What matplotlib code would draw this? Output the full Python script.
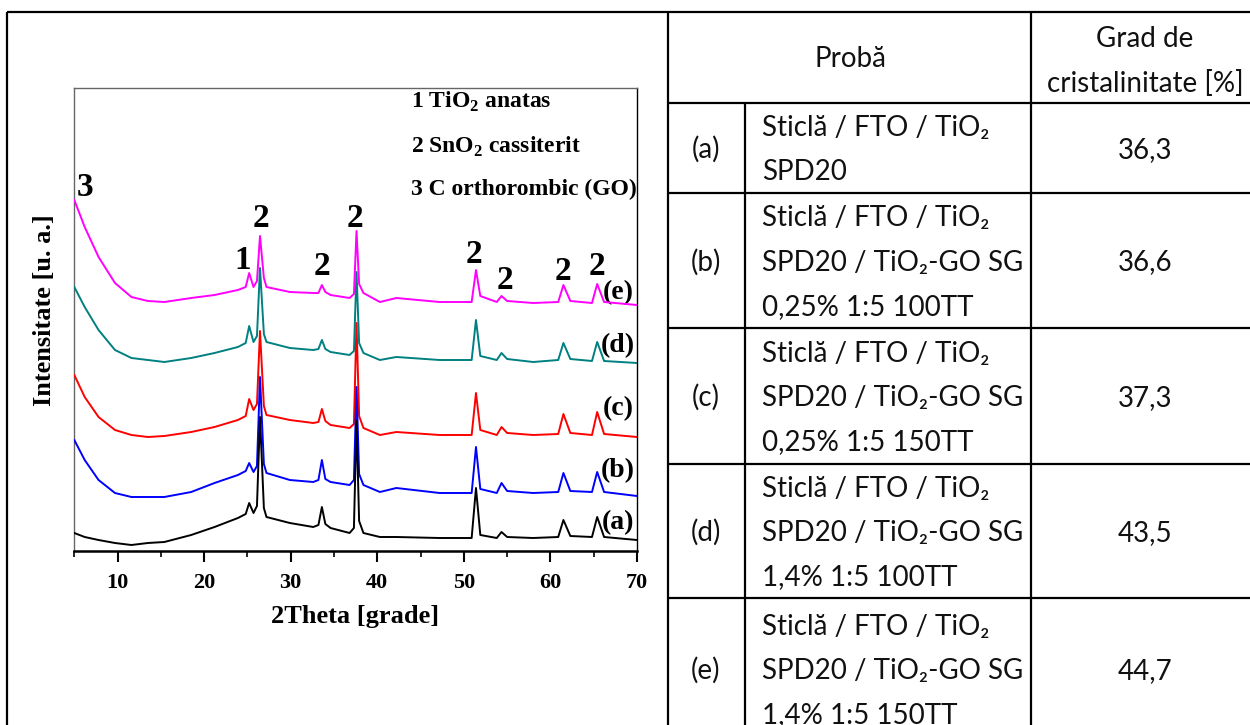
import matplotlib
matplotlib.use("Agg")
import matplotlib.pyplot as plt
from matplotlib.ticker import MultipleLocator

plt.rcParams['mathtext.fontset'] = 'custom'
plt.rcParams['mathtext.rm'] = 'Lato'
plt.rcParams['mathtext.bf'] = 'Liberation Serif:bold'

W, H = 1250, 725

# 2Theta positions
two_theta = [5.0, 6.2, 7.8, 9.7, 11.6, 13.5, 15.4, 18.5, 21.2, 23.9, 24.8, 25.2, 25.7,
             26.1, 26.45, 26.9, 27.2, 29.9, 32.6, 33.2, 33.6, 34.0, 34.6, 36.8, 37.3,
             37.6, 37.9, 38.4, 40.3, 42.2, 47.2, 50.9, 51.4, 51.9, 53.8, 54.35, 55.0,
             58.0, 60.9, 61.5, 62.3, 64.8, 65.4, 66.2, 70.0]

# intensities (arbitrary units, already offset like in the original stack)
int_e = [346, 319, 289, 263, 249, 245, 244, 248, 251, 256, 259, 273, 259,
         265, 310, 268, 259, 254, 253, 253, 261, 254, 251, 248, 252,
         315, 262, 253, 244, 248, 244, 244, 276, 250, 244, 250, 245,
         243, 244, 261, 245, 243, 262, 244, 241]
int_d = [259, 239, 216, 196, 188, 186, 184, 188, 193, 199, 203, 220, 204,
         210, 278, 212, 204, 198, 196, 197, 206, 197, 194, 191, 195,
         274, 203, 193, 186, 189, 186, 186, 226, 190, 186, 193, 187,
         184, 186, 203, 187, 185, 204, 185, 183]
int_c = [171, 149, 129, 116, 111, 109, 110, 114, 119, 126, 130, 147, 136,
         142, 215, 140, 131, 126, 123, 124, 137, 125, 121, 118, 122,
         223, 130, 118, 111, 114, 111, 111, 153, 116, 111, 119, 113,
         111, 112, 132, 113, 111, 134, 112, 109]
int_b = [106, 86, 66, 53, 49, 49, 49, 54, 63, 71, 75, 83, 74,
         80, 169, 82, 73, 66, 64, 66, 86, 67, 64, 61, 66,
         159, 72, 61, 54, 58, 53, 53, 99, 57, 53, 63, 55,
         53, 54, 73, 55, 54, 74, 54, 50]
int_a = [13, 9, 6, 3, 1, 3, 4, 11, 19, 28, 32, 43, 33,
         40, 129, 38, 29, 23, 19, 21, 39, 22, 18, 13, 18,
         125, 25, 13, 9, 9, 8, 8, 58, 11, 8, 14, 9,
         8, 9, 26, 10, 9, 29, 9, 6]

series_names = ["(a)", "(b)", "(c)", "(d)", "(e)"]
series_colors = ["black", "#0000FF", "#FF0000", "#008080", "#FF00FF"]

phases = ["1 TiO$_\\mathbf{2}$ anatas", "2 SnO$_\\mathbf{2}$ cassiterit", "3 C orthorombic (GO)"]

# table content
sample_lines = [
    ["Sticlă / FTO / TiO₂", "SPD20"],
    ["Sticlă / FTO / TiO₂", "SPD20 / TiO₂-GO SG", "0,25% 1:5 100TT"],
    ["Sticlă / FTO / TiO₂", "SPD20 / TiO₂-GO SG", "0,25% 1:5 150TT"],
    ["Sticlă / FTO / TiO₂", "SPD20 / TiO₂-GO SG", "1,4% 1:5 100TT"],
    ["Sticlă / FTO / TiO₂", "SPD20 / TiO₂-GO SG", "1,4% 1:5 150TT"],
]
crystallinity = ["36,3", "36,6", "37,3", "43,5", "44,7"]

fig = plt.figure(figsize=(W / 100, H / 100), dpi=100)

# overlay in pixel coords for the frame and the table
tab = fig.add_axes([0, 0, 1, 1])
tab.set_xlim(0, W)
tab.set_ylim(H, 0)
tab.axis("off")

lk = dict(color="black", lw=1.6, solid_capstyle="butt")
tab.plot([7, 7], [12, H + 5], **lk)
tab.plot([7, W + 5], [12, 12], **lk)
rows = [12, 103, 193, 328, 464, 598, 740]
tab.plot([668, 668], [12, H + 5], **lk)
tab.plot([745, 745], [103, H + 5], **lk)
tab.plot([1031, 1031], [12, H + 5], **lk)
for y in rows[1:-1]:
    tab.plot([668, W + 5], [y, y], **lk)

tf = dict(family=["Lato", "DejaVu Sans"], fontsize=20, color="#111111")
tab.text(850, 67, "Probă", ha="center", va="baseline", **tf)
tab.text(1145, 47, "Grad de", ha="center", va="baseline", **tf)
tab.text(1145, 92, "cristalinitate [%]", ha="center", va="baseline", **tf)
for i in range(5):
    top, bot = rows[i + 1], rows[i + 2]
    mid = (top + bot) / 2
    tab.text(706, mid + 10, series_names[i], ha="center", va="baseline", **tf)
    tab.text(1145, mid + 10, crystallinity[i], ha="center", va="baseline", **tf)
    n = len(sample_lines[i])
    for j, line in enumerate(sample_lines[i]):
        yy = mid + (j - (n - 1) / 2) * 44.5
        tab.text(762, yy + 10, line, ha="left", va="baseline", **tf)

# XRD plot
ax = fig.add_axes([74.3 / W, 1 - 551 / H, (637 - 74.3) / W, (551 - 88) / H])
ax.patch.set_alpha(0)
data = [int_a, int_b, int_c, int_d, int_e]
for k in range(4, -1, -1):
    ax.plot(two_theta, data[k], color=series_colors[k], lw=1.4, zorder=10 - k)

ax.set_xlim(5, 70)
ax.set_ylim(-5, 458)
ax.xaxis.set_minor_locator(MultipleLocator(5))
ax.set_xticks([10, 20, 30, 40, 50, 60, 70])
ax.set_yticks([])
ax.tick_params(axis="x", which="major", direction="out", length=8, width=1.5, pad=8,
               labelsize=16)
ax.tick_params(axis="x", which="minor", direction="out", length=4, width=1.2)
for lab in ax.get_xticklabels():
    lab.set_family("Liberation Serif")
    lab.set_weight("bold")
ax.spines["bottom"].set_linewidth(1.8)
ax.spines["right"].set_linewidth(1.0)
ax.spines["top"].set_linewidth(1.0)
ax.spines["top"].set_color("#666666")
ax.spines["left"].set_linewidth(1.0)
ax.spines["left"].set_color("#666666")

sf = dict(family="Liberation Serif", weight="bold")
ax.set_xlabel("2Theta [grade]", fontsize=19, **sf)
ax.xaxis.set_label_coords((355 - 74.3) / 562.7, (551 - 605) / 463)
ax.set_ylabel("Intensitate [u. a.]", fontsize=19, **sf)
ax.yaxis.set_label_coords((56 - 74.3) / 562.7, (551 - 310) / 463)

for i, t in enumerate(phases):
    ax.text(43.9, [438, 393, 351][i], t, fontsize=17, va="baseline", ha="left", **sf)

pk = dict(fontsize=24, ha="center", va="baseline", **sf)
ax.text(6.24, 350, "3", **pk)
ax.text(24.42, 277, "1", **pk)
ax.text(26.55, 319, "2", **pk)
ax.text(33.6, 271, "2", **pk)
ax.text(37.41, 319, "2", **pk)
ax.text(51.19, 283, "2", **pk)
ax.text(54.7, 257, "2", **pk)
ax.text(61.43, 266, "2", **pk)
ax.text(65.32, 271, "2", **pk)

for i, v in enumerate([17, 69, 131, 194, 247]):
    ax.text(67.8, v, series_names[i], fontsize=20, ha="center", va="baseline", **sf)

fig.savefig("out.png", dpi=100)
